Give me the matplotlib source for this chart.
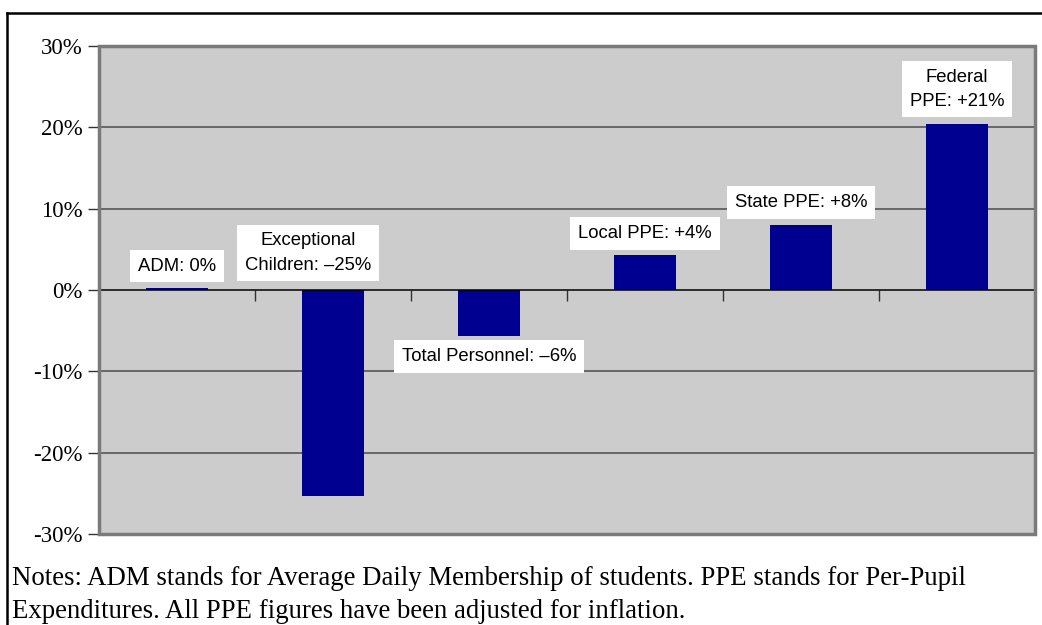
import matplotlib.pyplot as plt
from matplotlib.patches import Rectangle
from matplotlib.lines import Line2D

# data
categories = ["ADM", "Exceptional Children", "Total Personnel", "Local PPE", "State PPE", "Federal PPE"]
values = [0.2, -25.3, -5.6, 4.3, 8.0, 20.4]
bar_labels = ["ADM: 0%", "Exceptional\nChildren: \u201325%", "Total Personnel: \u20136%",
              "Local PPE: +4%", "State PPE: +8%", "Federal\nPPE: +21%"]
y_ticks = [-30, -20, -10, 0, 10, 20, 30]
y_tick_labels = ["-30%", "-20%", "-10%", "0%", "10%", "20%", "30%"]
notes = ["Notes: ADM stands for Average Daily Membership of students. PPE stands for Per-Pupil",
         "Expenditures. All PPE figures have been adjusted for inflation."]

# label placement (layout only)
label_dx = [0.0, -0.16, 0.0, 0.0, 0.0, 0.0]
label_y = [2.95, 4.55, -8.2, 6.95, 10.76, 24.7]

fig = plt.figure(figsize=(10.42, 6.25), dpi=100)
ax = fig.add_axes([0.095, 0.1456, 0.8983, 0.7808])
ax.set_facecolor("#cccccc")

x = list(range(len(categories)))
ax.bar(x, values, width=0.4, color="#000090", zorder=3)

ax.set_xlim(-0.5, len(categories) - 0.5)
ax.set_ylim(-30, 30)

# gridlines
for v in [-20, -10, 10, 20]:
    ax.axhline(v, color="#4d4d4d", lw=1.1, zorder=1)

# spines: x axis sits on zero line, gray border around plot
ax.spines["bottom"].set_position(("data", 0))
ax.spines["bottom"].set_color("black")
ax.spines["bottom"].set_linewidth(1.1)
ax.spines["bottom"].set_zorder(4)
for s in ["top", "right"]:
    ax.spines[s].set_visible(False)
ax.spines["left"].set_color("#7a7a7a")
ax.spines["left"].set_linewidth(2)
ax.add_patch(Rectangle((0, 0), 1, 1, transform=ax.transAxes, fill=False,
                       edgecolor="#7a7a7a", lw=2.5, clip_on=False, zorder=5))

ax.set_xticks([i + 0.5 for i in range(-1, len(categories))])
ax.set_xticklabels([])
ax.tick_params(axis="x", direction="out", length=8, width=1, color="#333333")

ax.set_yticks(y_ticks)
ax.set_yticklabels(y_tick_labels, family="Liberation Serif", fontsize=16.5)
ax.tick_params(axis="y", direction="out", length=8, width=1, color="#333333", pad=4)

for i, lab in enumerate(bar_labels):
    ax.text(i + label_dx[i], label_y[i], lab, ha="center", va="center",
            family="Liberation Sans", fontsize=13.3, linespacing=1.55, zorder=6,
            bbox=dict(boxstyle="square,pad=0.42", facecolor="white", edgecolor="none"))

# notes under the chart, one text per line
fig.text(0.0115, 1 - 585 / 625, notes[0], ha="left", va="baseline",
         family="Liberation Serif", fontsize=19.3)
fig.text(0.0115, 1 - 618 / 625, notes[1], ha="left", va="baseline",
         family="Liberation Serif", fontsize=19.3)

# outer frame lines
fig.add_artist(Line2D([0.007, 1.0], [0.979, 0.979], transform=fig.transFigure, color="black", lw=1.8))
fig.add_artist(Line2D([0.007, 0.007], [0.0, 0.979], transform=fig.transFigure, color="black", lw=1.8))

fig.savefig("out.png", dpi=100)
